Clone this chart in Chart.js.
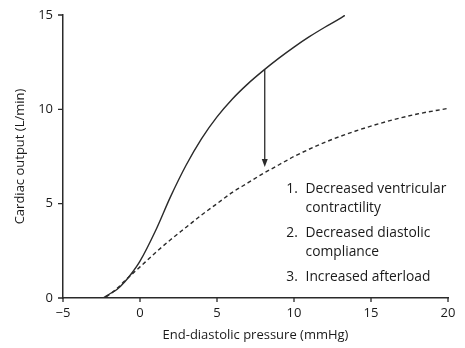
<!DOCTYPE html>
<html lang="en">
<head>
<meta charset="UTF-8">
<title>Cardiac output vs end-diastolic pressure</title>
<script src="https://cdn.jsdelivr.net/npm/chart.js"></script>
<style>
    html, body { margin: 0; padding: 0; background: #fff; }
    .chart-box { width: 465px; height: 348px; }
</style>
</head>
<body>
<div class="chart-box"><canvas id="curveChart"></canvas></div>
<script>
// normal ventricular function curve (solid)
const normalX = [-2.4, -2, -1.5, -1, -0.5, 0, 1, 2, 3, 4, 5, 6, 7, 8, 9, 10, 11, 12, 13, 13.3];
const normalY = [0, 0.2, 0.45, 0.85, 1.35, 1.95, 3.55, 5.4, 7.05, 8.45, 9.6, 10.55, 11.35, 12.05, 12.7, 13.3, 13.85, 14.35, 14.82, 14.98];

// depressed function curve (dashed)
const depressedX = [-2.2, -1.5, -1, 0, 1, 2, 3, 4, 5, 6, 7, 8, 9, 10, 12, 14, 16, 18, 20];
const depressedY = [0.05, 0.5, 0.9, 1.65, 2.4, 3.1, 3.75, 4.4, 5.0, 5.6, 6.1, 6.6, 7.05, 7.5, 8.25, 8.85, 9.35, 9.75, 10.05];

// arrow: x, from y, to y
const arrowX = 8.1;
const arrowFrom = 12.1;
const arrowTo = 6.95;

const xTicks = [-5, 0, 5, 10, 15, 20];
const yTicks = [0, 5, 10, 15];

const causes = [
    ['1.', 'Decreased ventricular', 'contractility'],
    ['2.', 'Decreased diastolic', 'compliance'],
    ['3.', 'Increased afterload']
];

const ink = '#2a2a2a';
const fontFamily = '"Open Sans", "Noto Sans", sans-serif';

function toPoints(xs, ys) {
    return xs.map((x, i) => ({ x: x, y: ys[i] }));
}

// outward tick marks, arrow and the list of causes
const extrasPlugin = {
    id: 'extras',
    afterDatasetsDraw(chart) {
        const { ctx, scales, chartArea } = chart;
        ctx.save();
        ctx.strokeStyle = ink;
        ctx.fillStyle = ink;
        ctx.lineWidth = 1.3;

        ctx.beginPath();
        xTicks.forEach(v => {
            const px = scales.x.getPixelForValue(v);
            ctx.moveTo(px, chartArea.bottom);
            ctx.lineTo(px, chartArea.bottom + 4);
        });
        yTicks.forEach(v => {
            const py = scales.y.getPixelForValue(v);
            ctx.moveTo(chartArea.left, py);
            ctx.lineTo(chartArea.left - 5, py);
        });
        ctx.stroke();

        const x = scales.x.getPixelForValue(arrowX);
        const y1 = scales.y.getPixelForValue(arrowFrom);
        const y2 = scales.y.getPixelForValue(arrowTo);
        ctx.beginPath();
        ctx.moveTo(x, y1);
        ctx.lineTo(x, y2 - 7);
        ctx.stroke();
        ctx.beginPath();
        ctx.moveTo(x - 3, y2 - 8);
        ctx.lineTo(x + 3, y2 - 8);
        ctx.lineTo(x, y2);
        ctx.closePath();
        ctx.fill();

        // numbered list, anchored in data space
        ctx.font = '13.8px ' + fontFamily;
        ctx.fillStyle = '#1a1a1a';
        ctx.textBaseline = 'middle';
        ctx.textAlign = 'left';
        const numX = scales.x.getPixelForValue(9.5);
        const txtX = scales.x.getPixelForValue(10.75);
        let y = scales.y.getPixelForValue(5.8);
        causes.forEach(item => {
            ctx.fillText(item[0], numX, y);
            for (let i = 1; i < item.length; i++) {
                ctx.fillText(item[i], txtX, y);
                y += 19;
            }
            y += 6;
        });
        ctx.restore();
    }
};

new Chart(document.getElementById('curveChart'), {
    type: 'line',
    data: {
        datasets: [
            {
                data: toPoints(normalX, normalY),
                borderColor: ink,
                borderWidth: 1.4,
                pointRadius: 0,
                cubicInterpolationMode: 'monotone'
            },
            {
                data: toPoints(depressedX, depressedY),
                borderColor: ink,
                borderWidth: 1.4,
                borderDash: [4, 3],
                pointRadius: 0,
                cubicInterpolationMode: 'monotone'
            }
        ]
    },
    options: {
        responsive: true,
        maintainAspectRatio: false,
        animation: false,
        layout: { padding: { top: 15, right: 17, left: 0, bottom: 0 } },
        plugins: {
            legend: { display: false },
            tooltip: { enabled: false }
        },
        scales: {
            x: {
                type: 'linear',
                min: -5,
                max: 20,
                afterBuildTicks: s => { s.ticks = xTicks.map(v => ({ value: v })); },
                afterFit: s => { s.height = 50; },
                grid: { display: false, tickLength: 4 },
                border: { display: true, color: ink, width: 1.5 },
                ticks: {
                    color: '#1a1a1a',
                    padding: 3,
                    font: { family: fontFamily, size: 13 },
                    callback: v => String(v).replace('-', '\u2212')
                },
                title: {
                    display: true,
                    text: 'End-diastolic pressure (mmHg)',
                    color: '#1a1a1a',
                    font: { family: fontFamily, size: 13 },
                    padding: { top: 0, bottom: 5 }
                }
            },
            y: {
                type: 'linear',
                min: 0,
                max: 15,
                afterBuildTicks: s => { s.ticks = yTicks.map(v => ({ value: v })); },
                afterFit: s => { s.width = 63; },
                grid: { display: false, tickLength: 5 },
                border: { display: true, color: ink, width: 1.5 },
                ticks: {
                    color: '#1a1a1a',
                    padding: 5,
                    font: { family: fontFamily, size: 13 }
                },
                title: {
                    display: true,
                    text: 'Cardiac output (L/min)',
                    color: '#1a1a1a',
                    font: { family: fontFamily, size: 13 },
                    padding: { top: 12, bottom: 0 }
                }
            }
        }
    },
    plugins: [extrasPlugin]
});
</script>
</body>
</html>
